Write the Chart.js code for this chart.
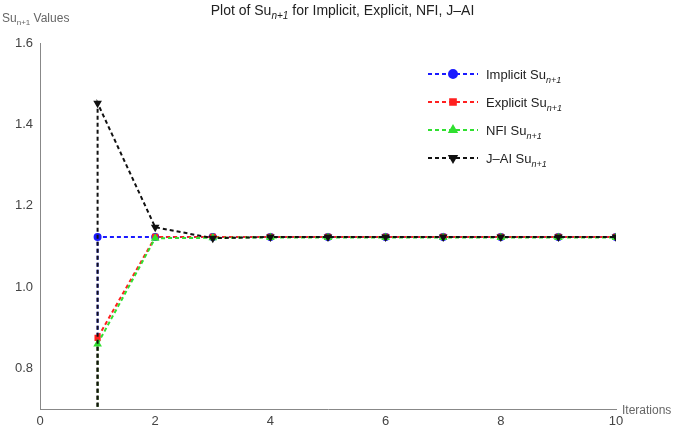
<!DOCTYPE html><html><head><script src="https://cdn.jsdelivr.net/npm/chart.js@4"></script>
<style>body{margin:0;background:#fff}#w{width:685px;height:429px}</style></head><body><div id="w"><canvas id="c"></canvas></div>
<script>
const iterations=[1,1,2,3,4,5,6,7,8,9,10];
const implicitVals=[0,1.123,1.123,1.123,1.123,1.123,1.123,1.123,1.123,1.123,1.123];
const explicitVals=[0,0.875,1.123,1.123,1.123,1.123,1.123,1.123,1.123,1.123,1.123];
const nfiVals=[0,0.86,1.12,1.121,1.122,1.122,1.122,1.122,1.122,1.122,1.122];
const jaiVals=[0,1.452,1.147,1.12,1.123,1.123,1.123,1.123,1.123,1.123,1.123];
const names=['Implicit','Explicit','NFI','J\u2013AI'];
const colors=['#1a1aff','#ff2020','#30e030','#111111'];
const styles=['circle','rect','triangle','triangle'];
const rots=[0,0,0,180];
const xTicks=[0,2,4,6,8,10];
const yTicks=[0.8,1.0,1.2,1.4,1.6];
const series=[implicitVals,explicitVals,nfiVals,jaiVals];
const ds=series.map((v,i)=>({label:names[i],data:iterations.map((x,j)=>({x,y:v[j]})),borderColor:colors[i],backgroundColor:colors[i],borderDash:[4,3],borderWidth:2,pointStyle:styles[i],rotation:rots[i],pointRadius:v.map((_,j)=>j==0?0:3),fill:false,tension:0,order:i==3?0:4-i}));
const extra={id:'extra',afterDraw(ch){const c=ch.ctx,a=ch.chartArea;c.save();c.fillStyle='#666';c.font='12px Arial';
c.textAlign='left';c.fillText('Su',2,22);let w=c.measureText('Su').width;c.font='8px Arial';c.fillText('n+1',2+w,25);let w2=c.measureText('n+1').width;c.font='12px Arial';c.fillText(' Values',2+w+w2,22);
c.fillText('Iterations',622,414);
c.fillStyle='#222';c.font='14px Arial';c.textAlign='left';
let t1='Plot of Su',t3=' for Implicit, Explicit, NFI, J\u2013AI';let a1=c.measureText(t1).width;c.font='10px Arial';let a2=c.measureText('n+1').width;c.font='14px Arial';let a3=c.measureText(t3).width;let sx=(685-a1-a2-a3)/2;
c.fillText(t1,sx,15);c.font='italic 10px Arial';c.fillText('n+1',sx+a1,19);c.font='14px Arial';c.fillText(t3,sx+a1+a2,15);
const lx=428,ly=[74,102,130,158];
names.forEach((n,i)=>{c.strokeStyle=colors[i];c.lineWidth=2;c.setLineDash([4,3]);c.beginPath();c.moveTo(lx,ly[i]);c.lineTo(lx+50,ly[i]);c.stroke();c.setLineDash([]);
c.fillStyle=colors[i];c.strokeStyle=colors[i];
Chart.helpers.drawPoint(c,{pointStyle:styles[i],radius:4,rotation:rots[i],borderWidth:1},lx+25,ly[i]);
c.fillStyle='#222';c.font='13px Arial';c.textAlign='left';let s=n+' Su';c.fillText(s,lx+58,ly[i]+5);let ww=c.measureText(s).width;c.font='italic 9px Arial';c.fillText('n+1',lx+58+ww,ly[i]+9);});
c.restore();}};
new Chart(document.getElementById('c'),{type:'line',data:{datasets:ds},plugins:[extra],options:{animation:false,responsive:true,maintainAspectRatio:false,
layout:{padding:{left:0,right:69,top:43,bottom:0}},
plugins:{legend:{display:false},tooltip:{enabled:false}},
scales:{x:{type:'linear',min:0,max:10,afterBuildTicks(s){s.ticks=xTicks.map(v=>({value:v}));},afterFit(s){s.height=20;},grid:{display:false,drawTicks:true,tickLength:4},border:{color:'#888'},ticks:{color:'#444',font:{size:13},padding:1}},
y:{min:0.7,max:1.6,afterBuildTicks(s){s.ticks=yTicks.map(v=>({value:v}));},afterFit(s){s.width=40;},grid:{display:false,tickLength:5},border:{color:'#888'},ticks:{color:'#444',font:{size:13},callback:v=>v.toFixed(1),padding:2}}}}});
</script></body></html>
